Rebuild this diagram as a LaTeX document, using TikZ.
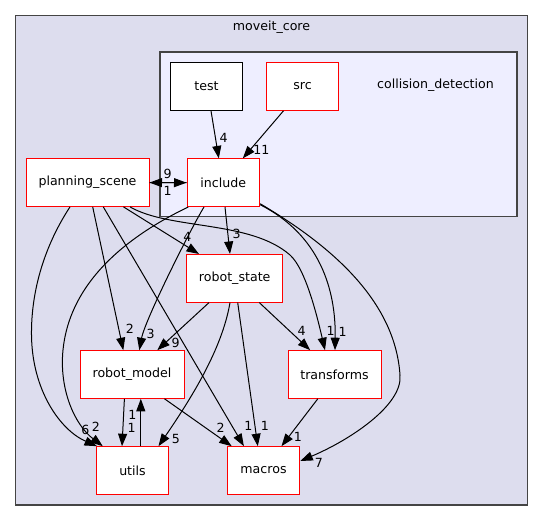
\documentclass[tikz,border=0pt]{standalone}
\usepackage{fontspec}
\setmainfont{DejaVu Sans}
\usetikzlibrary{arrows.meta}
\definecolor{outerfill}{HTML}{DDDDEE}
\definecolor{innerfill}{HTML}{EEEEFF}
\definecolor{clusterline}{HTML}{444444}
\begin{document}
\begin{tikzpicture}[x=1pt,y=-1pt,
  font=\fontsize{12.6}{15}\selectfont,
  box/.style={draw=red, fill=white, line width=1pt, minimum width=#1, minimum height=47.6pt, inner sep=0pt},
  blackbox/.style={draw=black, fill=white, line width=1pt, minimum width=#1, minimum height=47.6pt, inner sep=0pt},
  cluster/.style={draw=clusterline, line width=1.3pt},
  dep/.style={draw=black, line width=1pt, -{Triangle[length=12.5pt,width=9pt]}},
  lbl/.style={inner sep=0pt}]
\useasboundingbox (0,0) rectangle (544,521);
% clusters
\draw[cluster, fill=outerfill] (15.5,15.5) rectangle (527.5,505);
\node (tmc) at (271.5,27.3) {moveit\_core};
\draw[cluster, fill=innerfill] (160,52) rectangle (517,216.7);
\node (tcd) at (435.5,85.7) {collision\_detection};
% nodes
\node[blackbox=72pt] (test) at (206.5,86.5) {test};
\node[box=72pt] (src) at (302.5,86.5) {src};
\node[box=72.6pt] (include) at (223.3,182.7) {include};
\node[box=123pt] (ps) at (87.5,182.6) {planning\_scene};
\node[box=96pt] (rs) at (234.7,278.3) {robot\_state};
\node[box=104pt] (rm) at (132,374.5) {robot\_model};
\node[box=93pt] (tf) at (334.5,374.5) {transforms};
\node[box=72pt] (utils) at (132.5,470.5) {utils};
\node[box=72.6pt] (macros) at (263.5,470.5) {macros};
% edges
\draw[dep] ([xshift=4.5pt]test.south) -- ([xshift=-4.5pt]include.north);
\node[lbl] (l1) at (223.7,138.3) {4};
\draw[dep] ([xshift=-19pt]src.south) -- ([xshift=19.5pt]include.north);
\node[lbl] (l2) at (261.3,150) {11};
\draw[dep] (ps.east) -- (include.west);
\node[lbl] (l3) at (167.6,173.7) {9};
\draw[dep] (include.west) -- (ps.east);
\node[lbl] (l4) at (167.6,190.7) {1};
\draw[dep] ([xshift=36pt]ps.south) -- ([xshift=-35.7pt]rs.north);
\node[lbl] (l5) at (187.3,237.3) {4};
\draw[dep] ([xshift=1.7pt]include.south) -- ([xshift=-4.7pt]rs.north);
\node[lbl] (l6) at (236.7,234.3) {3};
\draw[dep] ([xshift=5.2pt]ps.south) -- ([xshift=-8.7pt]rm.north);
\node[lbl] (l7) at (130,329.3) {2};
\draw[dep] ([xshift=-19.3pt]include.south) .. controls (190,230) and (145,320) .. ([xshift=7.3pt]rm.north);
\node[lbl] (l8) at (150.7,334.3) {3};
\draw[dep] ([xshift=-25.7pt]rs.south) -- ([xshift=25.3pt]rm.north);
\node[lbl] (l9) at (175.7,343.3) {9};
\draw[dep] ([xshift=-17.5pt]ps.south) .. controls (45,245) and (31,290) .. (31.5,335) .. controls (32,390) and (60,430) .. ([xshift=1pt]utils.north west);
\node[lbl] (l10) at (85.4,430) {6};
\draw[dep] ([xshift=-35pt]include.south) .. controls (130,235) and (70,280) .. (63,350) .. controls (59,390) and (75,425) .. ([xshift=-29.7pt]utils.north);
\node[lbl] (l11) at (95.8,426.7) {2};
\draw[dep] ([xshift=-4.7pt]rs.south) .. controls (222,350) and (190,400) .. ([xshift=26pt]utils.north);
\node[lbl] (l12) at (176,439) {5};
\draw[dep] ([xshift=-7.6pt]rm.south) -- ([xshift=-10.5pt]utils.north);
\node[lbl] (l13) at (131.7,428) {1};
\draw[dep] ([xshift=8.3pt]utils.north) -- ([xshift=8.8pt]rm.south);
\node[lbl] (l14) at (132.4,415) {1};
\draw[dep] ([xshift=32.5pt]rm.south) -- ([xshift=-31.8pt]macros.north);
\node[lbl] (l15) at (220.6,427.7) {2};
\draw[dep] ([xshift=15.8pt]ps.south) -- ([xshift=-19.6pt]macros.north);
\node[lbl] (l16) at (248.4,426) {1};
\draw[dep] ([xshift=3pt]rs.south) -- ([xshift=-5.7pt]macros.north);
\node[lbl] (l17) at (264.8,426) {1};
\draw[dep] ([xshift=-16.7pt]tf.south) -- ([xshift=18pt]macros.north);
\node[lbl] (l18) at (297.9,436.7) {1};
\draw[dep] ([yshift=-21pt]include.east) .. controls (330,245) and (395,300) .. (400,375) .. controls (403,405) and (350,440) .. ([yshift=9.5pt]macros.east);
\node[lbl] (l19) at (318.8,462.7) {7};
\draw[dep] ([yshift=-22pt]include.east) .. controls (320,235) and (336,290) .. ([xshift=0.5pt]tf.north);
\node[lbl] (l20) at (342.7,331.7) {1};
\draw[dep] ([xshift=42.5pt]ps.south) .. controls (170,230) and (250,220) .. (290,255) .. controls (306,269) and (318,320) .. ([xshift=-9.5pt]tf.north);
\node[lbl] (l21) at (330.7,331) {1};
\draw[dep] ([xshift=24.6pt]rs.south) -- ([xshift=-24.3pt]tf.north);
\node[lbl] (l22) at (301.7,331) {4};
\end{tikzpicture}
\end{document}
